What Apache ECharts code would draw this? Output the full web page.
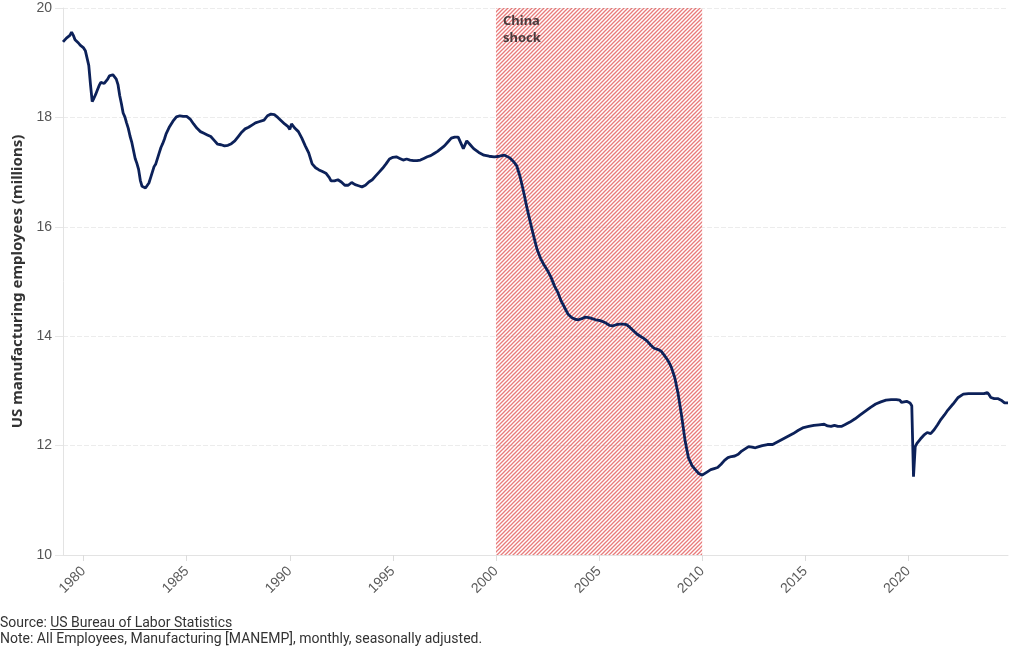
<!DOCTYPE html>
<html>
<head>
<meta charset="utf-8">
<script src="https://cdn.jsdelivr.net/npm/echarts@6/dist/echarts.min.js"></script>
<style>
html,body{margin:0;padding:0;background:#fff;}
#c{width:1020px;height:650px;}
</style>
</head>
<body>
<div id="c"></div>
<script>
// Monthly observations (YYYY-MM) and US manufacturing employees (millions)
const months = [
"1979-01","1979-03","1979-05","1979-06","1979-07","1979-08","1979-09","1979-10","1979-11","1979-12",
"1980-01","1980-02","1980-03","1980-04","1980-05","1980-06","1980-07","1980-08","1980-09","1980-10","1980-11","1980-12",
"1981-01","1981-02","1981-03","1981-04","1981-05","1981-06","1981-07","1981-08","1981-09","1981-10","1981-11","1981-12",
"1982-01","1982-02","1982-03","1982-04","1982-05","1982-06","1982-07","1982-08","1982-09","1982-10","1982-11","1982-12",
"1983-01","1983-02","1983-03","1983-04","1983-05","1983-06","1983-07","1983-08","1983-09","1983-10","1983-11","1983-12",
"1984-01","1984-03","1984-05","1984-07","1984-09","1984-11",
"1985-01","1985-03","1985-05","1985-07","1985-09","1985-11",
"1986-01","1986-03","1986-05","1986-07","1986-09","1986-11",
"1987-01","1987-03","1987-05","1987-07","1987-09","1987-11",
"1988-01","1988-03","1988-05","1988-07","1988-08","1988-10","1988-12",
"1989-02","1989-04","1989-06","1989-08","1989-10","1989-12",
"1990-01","1990-02","1990-04","1990-06","1990-08","1990-10","1990-12",
"1991-02","1991-04","1991-06","1991-08","1991-10","1991-12",
"1992-01","1992-03","1992-05","1992-07","1992-09","1992-11",
"1993-01","1993-03","1993-05","1993-07","1993-09","1993-11",
"1994-01","1994-03","1994-05","1994-07","1994-09","1994-11",
"1995-01","1995-03","1995-05","1995-07","1995-09","1995-11",
"1996-01","1996-03","1996-05","1996-07","1996-09","1996-11",
"1997-01","1997-03","1997-05","1997-07","1997-09","1997-11",
"1998-01","1998-03","1998-04","1998-06","1998-07","1998-08","1998-10","1998-12",
"1999-03","1999-06","1999-09","1999-12",
"2000-03","2000-06","2000-07","2000-09","2000-11",
"2001-01","2001-03","2001-05","2001-07","2001-09","2001-11",
"2002-01","2002-03","2002-05","2002-07","2002-09","2002-11",
"2003-01","2003-03","2003-05","2003-07","2003-09","2003-11",
"2004-01","2004-03","2004-05","2004-07","2004-09","2004-11",
"2005-01","2005-03","2005-05","2005-07","2005-09","2005-11",
"2006-01","2006-03","2006-05","2006-07","2006-09","2006-11",
"2007-01","2007-03","2007-05","2007-07","2007-09","2007-11",
"2008-01","2008-03","2008-05","2008-07","2008-09","2008-11",
"2009-01","2009-03","2009-05","2009-07","2009-09","2009-11",
"2010-01","2010-02","2010-04","2010-06","2010-08","2010-10","2010-12",
"2011-02","2011-04","2011-06","2011-08","2011-10","2011-12",
"2012-02","2012-04","2012-06","2012-08","2012-10","2012-12",
"2013-03","2013-06","2013-09","2013-12",
"2014-03","2014-06","2014-09","2014-12",
"2015-03","2015-06","2015-09","2015-12",
"2016-02","2016-04","2016-06","2016-08","2016-10","2016-12",
"2017-03","2017-06","2017-09","2017-12",
"2018-03","2018-06","2018-09","2018-12",
"2019-03","2019-06","2019-08","2019-09","2019-10","2019-12",
"2020-01","2020-02","2020-03","2020-04","2020-05","2020-06","2020-08","2020-10","2020-12",
"2021-02","2021-04","2021-06","2021-08","2021-10","2021-12",
"2022-03","2022-06","2022-09","2022-12",
"2023-03","2023-06","2023-09","2023-11","2023-12",
"2024-01","2024-03","2024-05","2024-07","2024-09","2024-10","2024-11"
];
const employment = [
19.38,19.45,19.50,19.56,19.50,19.42,19.44,19.36,19.32,19.30,
19.27,19.22,19.20,18.95,18.60,18.29,18.35,18.42,18.50,18.58,18.64,18.62,
18.62,18.60,18.70,18.76,18.79,18.78,18.76,18.70,18.60,18.40,18.25,18.08,
18.01,17.90,17.80,17.66,17.55,17.40,17.25,17.16,17.05,16.85,16.74,16.71,
16.71,16.72,16.80,16.90,17.00,17.10,17.15,17.25,17.35,17.45,17.52,17.60,
17.70,17.83,17.93,18.01,18.03,18.02,
18.02,17.97,17.88,17.80,17.74,17.71,
17.68,17.65,17.58,17.51,17.50,17.48,
17.49,17.52,17.57,17.65,17.73,17.79,
17.82,17.86,17.90,17.92,17.89,17.95,18.03,
18.06,18.05,18.00,17.94,17.88,17.83,
17.78,17.88,17.80,17.74,17.62,17.48,17.35,
17.15,17.08,17.04,17.01,16.98,16.90,
16.84,16.84,16.86,16.82,16.76,16.76,
16.81,16.77,16.75,16.73,16.76,16.82,
16.86,16.93,17.00,17.07,17.15,17.24,
17.27,17.28,17.25,17.22,17.24,17.22,
17.21,17.21,17.22,17.25,17.28,17.30,
17.34,17.38,17.43,17.48,17.55,17.62,
17.64,17.64,17.62,17.43,17.45,17.57,17.50,17.43,
17.36,17.31,17.29,17.28,
17.29,17.31,17.33,17.26,17.20,
17.12,16.92,16.65,16.35,16.08,15.82,
15.58,15.42,15.30,15.20,15.08,14.92,
14.80,14.64,14.52,14.40,14.34,14.31,
14.30,14.32,14.35,14.34,14.32,14.30,
14.29,14.27,14.24,14.20,14.19,14.21,
14.22,14.22,14.21,14.16,14.10,14.04,
14.00,13.96,13.91,13.84,13.78,13.76,
13.73,13.65,13.56,13.44,13.25,12.95,
12.55,12.10,11.78,11.64,11.56,11.49,
11.46,11.45,11.52,11.56,11.58,11.60,11.66,
11.73,11.78,11.80,11.81,11.84,11.90,
11.94,11.98,11.97,11.96,11.98,12.00,
12.02,12.02,12.07,12.12,
12.17,12.22,12.28,12.33,
12.35,12.37,12.38,12.39,
12.36,12.35,12.37,12.35,12.35,12.38,
12.43,12.49,12.56,12.63,
12.70,12.76,12.80,12.83,
12.84,12.84,12.83,12.79,12.82,12.81,
12.80,12.78,12.73,11.43,11.98,12.04,12.12,12.19,12.24,
12.22,12.29,12.38,12.48,12.56,12.65,
12.76,12.88,12.94,12.95,
12.95,12.95,12.95,12.97,12.93,
12.88,12.86,12.86,12.83,12.78,12.77,12.78
];
const xTickYears = [1980,1985,1990,1995,2000,2005,2010,2015,2020];
const yTicks = [10,12,14,16,18,20];
const shockPeriod = [2000, 2010];
const shockLabel = "China\nshock";
const yTitle = "US manufacturing employees (millions)";
const sourcePrefix = "Source: ";
const sourceLink = "US Bureau of Labor Statistics";
const noteText = "Note: All Employees, Manufacturing [MANEMP], monthly, seasonally adjusted.";

function toYear(m){ const p = m.split('-'); return +p[0] + (+p[1]-1)/12; }
const seriesData = months.map((m,i)=>[toYear(m), employment[i]]);

// hatch pattern
const tile = document.createElement('canvas');
const S = 4;
tile.width = S; tile.height = S;
const tc = tile.getContext('2d');
tc.strokeStyle = 'rgba(221,60,60,0.68)';
tc.lineWidth = 1.3;
tc.beginPath();
tc.moveTo(0,S); tc.lineTo(S,0);
tc.moveTo(-1,1); tc.lineTo(1,-1);
tc.moveTo(S-1,S+1); tc.lineTo(S+1,S-1);
tc.stroke();

const noteFont = '14px Roboto, "Noto Sans", sans-serif';
const mc = document.createElement('canvas').getContext('2d');
mc.font = noteFont;
const prefixW = mc.measureText(sourcePrefix).width;
const linkW = mc.measureText(sourceLink).width;

const chart = echarts.init(document.getElementById('c'), null, {renderer:'canvas'});
const axisColor = '#e3e3e3';
chart.setOption({
  animation:false,
  backgroundColor:'#fff',
  grid:{left:63,right:12,top:8,bottom:95,containLabel:false,outerBoundsMode:'none'},
  xAxis:{
    type:'value',
    min: seriesData[0][0],
    max: 'dataMax',
    axisLine:{show:true,lineStyle:{color:axisColor}},
    axisTick:{show:true,length:6,lineStyle:{color:'#dcdcdc'},customValues:xTickYears},
    axisLabel:{customValues:xTickYears,rotate:45,margin:14,color:'#5a5a5a',fontSize:14,fontFamily:'Liberation Sans, Arial, sans-serif',formatter:v=>String(Math.round(v))},
    splitLine:{show:false}
  },
  yAxis:{
    type:'value',
    min:yTicks[0],max:yTicks[yTicks.length-1],interval:2,
    name:yTitle,nameLocation:'middle',nameGap:38,
    nameTextStyle:{fontSize:15,fontWeight:'bold',color:'#333',fontFamily:'Noto Sans, Inter, sans-serif'},
    axisLine:{show:true,lineStyle:{color:axisColor}},
    axisTick:{show:true,length:8,lineStyle:{color:'#e6e6e6'}},
    axisLabel:{margin:11,color:'#555',fontSize:14,fontFamily:'Liberation Sans, Arial, sans-serif'},
    splitLine:{show:true,lineStyle:{color:'#ececec',type:[5,2]}}
  },
  series:[
    {
      type:'line',
      data:seriesData,
      showSymbol:false,
      z:2,
      lineStyle:{color:'#0c2159',width:2.8},
      itemStyle:{color:'#0c2159'}
    },
    {
      type:'line',
      data:[],
      z:5,
      markArea:{
        silent:true,
        itemStyle:{color:{image:tile,repeat:'repeat'}},
        label:{show:false},
        data:[[{xAxis:shockPeriod[0]},{xAxis:shockPeriod[1]}]]
      }
    }
  ]
});

const px = chart.convertToPixel({xAxisIndex:0}, shockPeriod[0]);
const py = chart.convertToPixel({yAxisIndex:0}, yTicks[yTicks.length-1]);
chart.setOption({
  graphic:[
    {type:'text',x:px+7,y:py+5,z:10,style:{text:shockLabel,fontSize:13,fontWeight:'bold',lineHeight:17,fill:'#4b3a3c',fontFamily:'Noto Sans, Inter, sans-serif'}},
    {type:'text',x:0,y:616,style:{text:sourcePrefix,font:noteFont,fill:'#333'}},
    {type:'text',x:prefixW,y:616,style:{text:sourceLink,font:noteFont,fill:'#333'}},
    {type:'line',shape:{x1:prefixW,y1:629.5,x2:prefixW+linkW,y2:629.5},style:{stroke:'#333',lineWidth:1}},
    {type:'text',x:0,y:632,style:{text:noteText,font:noteFont,fill:'#333'}}
  ]
});
</script>
</body>
</html>
